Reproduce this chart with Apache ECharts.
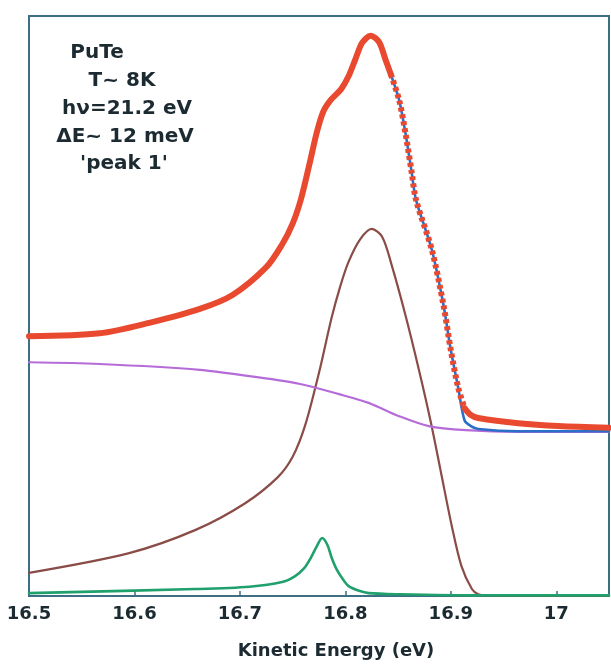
<!DOCTYPE html>
<html>
<head>
<meta charset="utf-8">
<script src="https://cdn.jsdelivr.net/npm/echarts@6/dist/echarts.min.js"></script>
<style>
  html, body { margin: 0; padding: 0; background: #fff; }
  #chart { width: 611px; height: 668px; }
</style>
</head>
<body>
<div id="chart"></div>
<script>
// kinetic energy grid (eV) + intensities (arb. units)
var dataX = [16.500, 16.567, 16.614, 16.662, 16.693, 16.725, 16.740, 16.750, 16.758, 16.766, 16.773, 16.779, 16.786, 16.796, 16.803, 16.810, 16.816, 16.824, 16.832, 16.838, 16.843, 16.851, 16.857, 16.863, 16.867, 16.882, 16.893, 16.900, 16.907, 16.913, 16.919, 16.926, 16.964, 17.002, 17.050];
var dataY = [44.8, 45.3, 47.1, 49.5, 51.9, 56.7, 60.6, 64.2, 68.5, 74.5, 80.0, 83.5, 85.5, 87.4, 89.6, 92.8, 95.4, 96.6, 95.5, 92.5, 90.0, 85.5, 79.8, 72.9, 68.3, 59.7, 50.2, 42.4, 35.9, 32.4, 31.2, 30.7, 29.8, 29.3, 29.0];
var fitY  = [44.8, 45.3, 47.1, 49.5, 51.9, 56.7, 60.6, 64.2, 68.5, 74.5, 80.0, 83.5, 85.5, 87.4, 89.6, 92.8, 95.4, 96.6, 95.5, 92.5, 90.0, 85.5, 79.8, 72.9, 68.3, 59.7, 50.2, 42.4, 35.9, 30.3, 29.3, 28.8, 28.4, 28.4, 28.4];

var bgX = [16.500, 16.567, 16.662, 16.709, 16.756, 16.794, 16.822, 16.851, 16.879, 16.914, 16.964, 17.050];
var bgY = [40.3, 40.0, 39.0, 37.9, 36.6, 34.8, 33.3, 31.0, 29.3, 28.6, 28.3, 28.3];

var peakX = [16.500, 16.595, 16.658, 16.705, 16.736, 16.750, 16.762, 16.775, 16.787, 16.795, 16.803, 16.814, 16.825, 16.835, 16.844, 16.857, 16.870, 16.881, 16.891, 16.901, 16.910, 16.920, 16.926, 16.936, 17.050];
var peakY = [4.0, 7.4, 11.4, 16.0, 20.5, 24.0, 29.5, 38.5, 48.0, 53.3, 57.6, 61.5, 63.3, 61.9, 57.0, 48.4, 38.8, 30.0, 21.0, 12.0, 5.2, 1.2, 0.3, 0.0, 0.0];

var smallX = [16.500, 16.658, 16.709, 16.740, 16.752, 16.761, 16.767, 16.773, 16.778, 16.783, 16.787, 16.792, 16.798, 16.803, 16.813, 16.822, 16.851, 16.926, 17.050];
var smallY = [0.5, 1.2, 1.6, 2.4, 3.4, 4.8, 6.5, 8.6, 10.0, 8.8, 6.6, 4.5, 2.8, 1.7, 0.9, 0.5, 0.3, 0.1, 0.1];

var xTicks = [16.5, 16.6, 16.7, 16.8, 16.9, 17];
var notes = ['PuTe', 'T~ 8K', 'h\u03bd=21.2 eV', '\u0394E~ 12 meV', "'peak 1'"];

function pairs(xs, ys, lo, hi) {
    var out = [];
    for (var i = 0; i < xs.length; i++) {
        if (xs[i] >= lo && xs[i] <= hi) out.push([xs[i], ys[i]]);
    }
    return out;
}

var font = 'DejaVu Sans';
var ink = '#1c2a31';
var frame = '#3d6e84';

var chart = echarts.init(document.getElementById('chart'));

function line(name, data, color, width, z, type) {
    return {
        name: name,
        type: 'line',
        data: data,
        showSymbol: false,
        smooth: 0.3,
        z: z,
        lineStyle: {color: color, width: width, type: type || 'solid', cap: type ? 'butt' : 'round', join: 'round'},
        silent: true
    };
}

var noteX = [97, 122, 127, 125, 124];
var noteY = [53, 81, 109, 137, 164];
var graphics = notes.map(function (t, i) {
    return {
        type: 'text', x: noteX[i], y: noteY[i],
        style: {text: t, font: 'bold 20px "' + font + '"', fill: ink, align: 'center', verticalAlign: 'middle'}
    };
});
graphics.push({
    type: 'text', x: 336, y: 651,
    style: {text: 'Kinetic Energy (eV)', font: 'bold 18px "' + font + '"', fill: ink, align: 'center', verticalAlign: 'middle'}
});

chart.setOption({
    animation: false,
    backgroundColor: '#fff',
    grid: {left: 29, right: 2, top: 16, bottom: 72, show: true, borderColor: frame, borderWidth: 2, backgroundColor: 'transparent'},
    xAxis: {
        type: 'value', min: 16.5, max: 17.05, interval: 0.1,
        axisLine: {show: false},
        axisTick: {show: true, inside: true, length: 5, lineStyle: {color: frame, width: 1.5}},
        splitLine: {show: false},
        axisLabel: {
            showMaxLabel: false, margin: 9,
            fontFamily: font, fontWeight: 'bold', fontSize: 18, color: ink,
            formatter: function (v) {
                for (var i = 0; i < xTicks.length; i++) {
                    if (Math.abs(xTicks[i] - v) < 1e-6) return String(xTicks[i]);
                }
                return '';
            }
        }
    },
    yAxis: {type: 'value', min: 0, max: 100, show: false, splitLine: {show: false}},
    graphic: graphics,
    series: [
        line('peak 2', pairs(peakX, peakY, 16, 18), '#8a4c47', 2.2, 3),
        line('peak 1', pairs(smallX, smallY, 16, 18), '#1fa06c', 2.6, 3),
        line('background', pairs(bgX, bgY, 16, 18), '#b66cd8', 2.2, 3),
        line('fit', pairs(dataX, fitY, 16, 18), '#2b6fc8', 2.6, 4),
        line('data', pairs(dataX, dataY, 16, 16.843), '#e8492f', 6, 5),
        line('data edge', pairs(dataX, dataY, 16.843, 16.913), '#e8492f', 6, 5, [4, 3]),
        line('data tail', pairs(dataX, dataY, 16.913, 18), '#e8492f', 6, 5)
    ]
});
</script>
</body>
</html>
